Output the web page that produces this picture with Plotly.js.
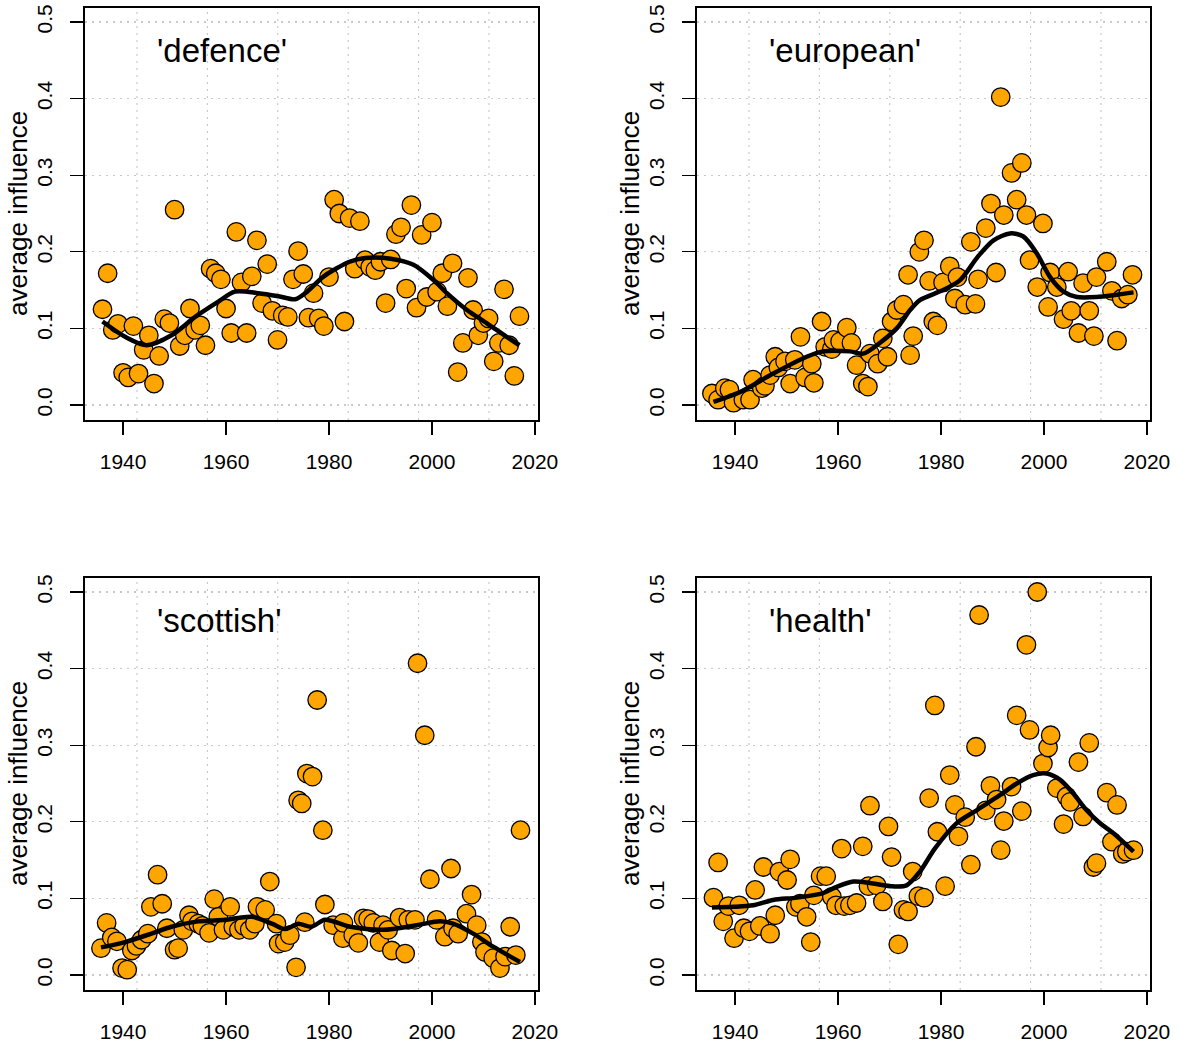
<!DOCTYPE html>
<html>
<head>
<meta charset="utf-8">
<script src="https://cdn.plot.ly/plotly-3.0.1.min.js"></script>
<style>html,body{margin:0;padding:0;background:#fff}</style>
</head>
<body>
<div id="chart" style="width:1178px;height:1047px"></div>
<script>
// ---------- data ----------
const panelNames = ["'defence'", "'european'", "'scottish'", "'health'"];
const xTickVals = [1940, 1960, 1980, 2000, 2020];
const xTickText = ["1940", "1960", "1980", "2000", "2020"];
const yTickVals = [0, 0.1, 0.2, 0.3, 0.4, 0.5];
const yTickText = ["0.0", "0.1", "0.2", "0.3", "0.4", "0.5"];
const gridYears = [1942.7, 1956.38, 1970.05, 1983.73, 1997.4, 2011.08];

const defenceYears = [1936,1937,1938,1939,1940,1941,1942,1943,1944,1945,1946,1947,1948,1949,1950,1951,1952,1953,1954,1955,1956,1957,1958,1959,1960,1961,1962,1963,1964,1965,1966,1967,1968,1969,1970,1971,1972,1973,1974,1975,1976,1977,1978,1979,1980,1981,1982,1983,1984,1985,1986,1987,1988,1989,1990,1991,1992,1993,1994,1995,1996,1997,1998,1999,2000,2001,2002,2003,2004,2005,2006,2007,2008,2009,2010,2011,2012,2013,2014,2015,2016,2017];
const defenceValues = [0.125,0.172,0.098,0.106,0.042,0.036,0.103,0.041,0.072,0.091,0.028,0.064,0.112,0.107,0.255,0.077,0.091,0.126,0.098,0.104,0.078,0.178,0.172,0.164,0.126,0.094,0.226,0.160,0.094,0.168,0.215,0.133,0.184,0.123,0.085,0.117,0.115,0.164,0.201,0.171,0.114,0.146,0.113,0.103,0.167,0.268,0.250,0.109,0.244,0.178,0.240,0.189,0.180,0.176,0.187,0.133,0.190,0.223,0.232,0.152,0.261,0.127,0.222,0.141,0.238,0.148,0.172,0.129,0.185,0.043,0.081,0.166,0.124,0.091,0.107,0.113,0.057,0.081,0.151,0.078,0.038,0.116];
const defenceSmoothYears = [1936,1940.4,1944.6,1949.4,1954,1958.5,1961.7,1966.3,1970.2,1973.4,1975.4,1979,1984,1987,1992,1996.4,2000.3,2002.9,2006.8,2010.6,2014.5,2017];
const defenceSmoothValues = [0.109,0.089,0.078,0.091,0.115,0.135,0.148,0.146,0.142,0.138,0.146,0.168,0.187,0.192,0.191,0.183,0.163,0.146,0.124,0.107,0.089,0.078];

const europeanYears = [1935.5,1936.7,1938.0,1938.9,1939.7,1941.6,1942.9,1943.5,1945.2,1945.8,1946.8,1947.8,1948.4,1949.7,1950.7,1951.6,1952.7,1953.6,1954.9,1955.3,1956.8,1957.5,1958.8,1959.1,1960.4,1961.7,1962.6,1963.6,1964.8,1965.8,1966.2,1967.7,1968.7,1969.6,1970.4,1971.4,1972.7,1973.6,1974.0,1974.6,1975.8,1976.7,1977.7,1978.5,1979.3,1980.4,1981.7,1982.7,1983.2,1984.7,1985.8,1986.7,1987.2,1988.7,1989.7,1990.7,1991.6,1992.2,1993.7,1994.7,1995.7,1996.6,1997.2,1998.7,1999.8,2000.8,2001.2,2002.5,2003.8,2004.7,2005.3,2006.7,2007.6,2008.8,2009.7,2010.2,2012.2,2013.2,2014.2,2015.1,2016.3,2017.2];
const europeanValues = [0.015,0.007,0.022,0.020,0.003,0.007,0.007,0.033,0.022,0.025,0.039,0.063,0.049,0.057,0.028,0.059,0.089,0.036,0.054,0.029,0.109,0.076,0.073,0.085,0.083,0.101,0.081,0.052,0.028,0.024,0.067,0.054,0.087,0.063,0.109,0.124,0.131,0.170,0.065,0.090,0.200,0.215,0.162,0.109,0.104,0.160,0.181,0.139,0.167,0.131,0.213,0.132,0.164,0.231,0.263,0.173,0.402,0.248,0.303,0.268,0.316,0.248,0.189,0.154,0.237,0.128,0.173,0.154,0.112,0.174,0.123,0.094,0.159,0.123,0.090,0.167,0.187,0.149,0.084,0.139,0.144,0.170];
const europeanSmoothYears = [1935.8,1941,1947.4,1953.9,1957.1,1962.3,1964.9,1968.1,1971.4,1974,1975.9,1980.4,1983.7,1987.2,1990.2,1993.4,1996,1998.6,2001.2,2003.8,2006.4,2010.2,2014.1,2017.4];
const europeanSmoothValues = [0.004,0.017,0.041,0.063,0.070,0.070,0.067,0.081,0.100,0.124,0.137,0.150,0.163,0.194,0.215,0.224,0.220,0.198,0.167,0.148,0.141,0.141,0.144,0.147];

const scottishYears = [1935.7,1936.8,1937.8,1938.8,1939.8,1940.8,1941.7,1942.6,1943.6,1944.8,1945.4,1946.7,1947.6,1948.5,1950.0,1950.7,1951.7,1952.8,1953.4,1954.6,1955.4,1956.7,1957.7,1958.5,1959.5,1960.8,1961.4,1962.5,1963.5,1964.6,1965.6,1966.1,1967.6,1968.5,1969.8,1970.2,1971.4,1972.4,1973.6,1974.0,1974.7,1975.3,1975.7,1976.8,1977.7,1978.8,1979.2,1980.8,1982.7,1982.8,1984.7,1985.7,1986.7,1987.6,1988.6,1989.8,1990.5,1991.5,1992.2,1993.7,1994.8,1995.4,1996.7,1997.2,1998.6,1999.6,2000.9,2002.5,2003.7,2004.1,2005.1,2006.7,2007.7,2008.7,2009.7,2010.3,2011.9,2013.2,2014.2,2015.2,2016.3,2017.2];
const scottishValues = [0.035,0.068,0.049,0.044,0.009,0.007,0.032,0.038,0.046,0.054,0.089,0.131,0.093,0.061,0.033,0.035,0.059,0.078,0.070,0.067,0.064,0.055,0.099,0.076,0.059,0.089,0.063,0.059,0.064,0.059,0.067,0.089,0.085,0.122,0.067,0.041,0.043,0.052,0.010,0.228,0.224,0.069,0.263,0.259,0.359,0.189,0.092,0.065,0.048,0.068,0.052,0.042,0.074,0.073,0.068,0.043,0.065,0.059,0.032,0.075,0.028,0.072,0.072,0.407,0.313,0.125,0.072,0.050,0.139,0.061,0.054,0.080,0.105,0.065,0.043,0.030,0.022,0.009,0.024,0.063,0.026,0.189];
const scottishSmoothYears = [1935.7,1940.4,1945.5,1949.4,1954.6,1959.8,1965.0,1968.9,1971.4,1972.7,1974.0,1976.6,1979.2,1984.1,1990.5,1997.0,2001.6,2004.1,2008.0,2011.9,2017.1];
const scottishSmoothValues = [0.036,0.043,0.054,0.063,0.070,0.072,0.076,0.067,0.060,0.063,0.067,0.063,0.072,0.063,0.059,0.065,0.070,0.067,0.054,0.037,0.017];

const healthYears = [1935.8,1936.7,1937.7,1938.7,1939.8,1940.8,1941.7,1942.8,1943.9,1944.8,1945.5,1946.8,1947.8,1948.6,1950.1,1950.7,1951.8,1952.6,1953.9,1954.7,1955.3,1956.6,1957.7,1958.8,1959.6,1960.7,1961.2,1962.3,1963.6,1964.8,1965.9,1966.2,1967.5,1968.7,1969.8,1970.4,1971.7,1972.7,1973.6,1974.5,1975.6,1976.7,1977.7,1978.8,1979.3,1980.8,1981.7,1982.7,1983.4,1984.7,1985.8,1986.8,1987.4,1988.7,1989.6,1990.8,1991.6,1992.2,1993.7,1994.7,1995.7,1996.6,1997.2,1998.7,1999.8,2000.8,2001.3,2002.5,2003.8,2004.4,2005.1,2006.7,2007.6,2008.8,2009.6,2010.2,2012.2,2013.2,2014.2,2015.3,2016.1,2017.4];
const healthValues = [0.101,0.147,0.070,0.090,0.048,0.091,0.061,0.057,0.111,0.064,0.141,0.054,0.078,0.135,0.124,0.151,0.089,0.093,0.076,0.043,0.104,0.129,0.129,0.102,0.091,0.165,0.090,0.091,0.094,0.168,0.116,0.221,0.117,0.096,0.194,0.154,0.040,0.085,0.083,0.135,0.103,0.101,0.231,0.352,0.187,0.116,0.261,0.222,0.181,0.206,0.144,0.298,0.470,0.215,0.247,0.229,0.163,0.201,0.246,0.339,0.214,0.431,0.320,0.500,0.276,0.297,0.313,0.244,0.197,0.233,0.226,0.278,0.207,0.303,0.141,0.146,0.238,0.174,0.222,0.158,0.161,0.163];
const healthSmoothYears = [1935.5,1939.7,1943.5,1947.4,1952,1957.1,1959.7,1963,1966.2,1970.1,1973.3,1975.9,1978.8,1983,1986.9,1991.5,1994.7,1997.9,2000.5,2003.1,2005.7,2008.3,2010.9,2013.5,2017.4];
const healthSmoothValues = [0.088,0.089,0.091,0.098,0.101,0.107,0.115,0.122,0.120,0.116,0.117,0.135,0.165,0.198,0.215,0.235,0.250,0.261,0.263,0.255,0.237,0.215,0.198,0.185,0.161];

// ---------- build ----------
const W = 1178, H = 1047;
const panels = [
  {name: panelNames[0], px: defenceYears, py: defenceValues, sx: defenceSmoothYears, sy: defenceSmoothValues, left: 85, top: 8},
  {name: panelNames[1], px: europeanYears, py: europeanValues, sx: europeanSmoothYears, sy: europeanSmoothValues, left: 697, top: 8},
  {name: panelNames[2], px: scottishYears, py: scottishValues, sx: scottishSmoothYears, sy: scottishSmoothValues, left: 85, top: 578},
  {name: panelNames[3], px: healthYears, py: healthValues, sx: healthSmoothYears, sy: healthSmoothValues, left: 697, top: 578}
];
const boxW = 453, boxH = 412;
const fontFam = "Liberation Sans, Arial, Helvetica, sans-serif";
const gridCol = "#c9c9c9";
const gridDash = "2px,5px";

const traces = [];
const layout = {
  width: W, height: H,
  margin: {l: 0, r: 0, t: 0, b: 0},
  paper_bgcolor: "white", plot_bgcolor: "white",
  showlegend: false,
  font: {family: fontFam, color: "black"},
  shapes: [], annotations: []
};

panels.forEach((p, i) => {
  const k = i === 0 ? "" : String(i + 1);
  const xa = "x" + k, ya = "y" + k;
  traces.push({
    type: "scatter", mode: "markers", x: p.px, y: p.py, xaxis: xa, yaxis: ya,
    marker: {color: "#FFA500", size: 18.5, line: {color: "black", width: 1.3}},
    hoverinfo: "x+y", cliponaxis: false
  });
  traces.push({
    type: "scatter", mode: "lines", x: p.sx, y: p.sy, xaxis: xa, yaxis: ya,
    line: {color: "black", width: 4.5, shape: "spline", smoothing: 0.8},
    hoverinfo: "skip"
  });
  const xd = [p.left / W, (p.left + boxW) / W];
  const yd = [1 - (p.top + boxH) / H, 1 - p.top / H];
  layout["xaxis" + k] = {
    domain: xd, anchor: ya, range: [1932.6, 2020.6],
    tickmode: "array", tickvals: xTickVals, ticktext: xTickText,
    ticks: "outside", ticklen: 13, tickwidth: 1.3, tickcolor: "black",
    ticklabelstandoff: 9,
    showline: true, mirror: true, linewidth: 2, linecolor: "black",
    showgrid: false, zeroline: false,
    tickfont: {size: 21, color: "black", family: fontFam},
    fixedrange: true
  };
  layout["yaxis" + k] = {
    domain: yd, anchor: xa, range: [-0.0196, 0.5183],
    tickmode: "array", tickvals: yTickVals, ticktext: yTickText, tickangle: -90,
    ticks: "outside", ticklen: 13, tickwidth: 1.3, tickcolor: "black",
    ticklabelstandoff: 10,
    showline: true, mirror: true, linewidth: 2, linecolor: "black",
    showgrid: true, gridcolor: gridCol, griddash: gridDash, gridwidth: 1.2,
    zeroline: false,
    tickfont: {size: 21, color: "black", family: fontFam},
    fixedrange: true
  };
  gridYears.forEach(g => {
    layout.shapes.push({
      type: "line", xref: xa, yref: ya + " domain", x0: g, x1: g, y0: 0, y1: 1,
      line: {color: gridCol, width: 1.2, dash: gridDash}, layer: "below"
    });
  });
  layout.annotations.push({
    xref: xa, yref: ya, x: 1946.2, y: 0.463, xanchor: "left", yanchor: "middle",
    text: p.name, showarrow: false, font: {size: 33, color: "black", family: fontFam}
  });
  layout.annotations.push({
    xref: "paper", yref: "paper", x: (p.left - 67) / W, y: 1 - (p.top + boxH / 2) / H,
    xanchor: "center", yanchor: "middle", textangle: -90,
    text: "average influence", showarrow: false, font: {size: 26, color: "black", family: fontFam}
  });
});

Plotly.newPlot("chart", traces, layout, {displayModeBar: false, staticPlot: true});
</script>
</body>
</html>
